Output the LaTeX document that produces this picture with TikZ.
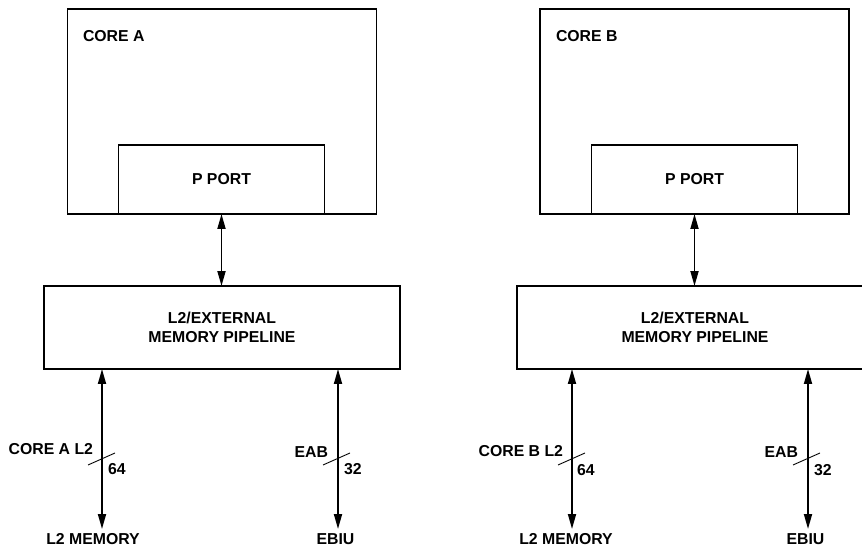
\documentclass[tikz,border=0pt]{standalone}
\usepackage{fontspec}
\setmainfont{Liberation Sans}
\usetikzlibrary{arrows.meta}

\begin{document}
\begin{tikzpicture}[x=0.02cm, y=-0.02cm,
        every node/.style={font=\bfseries\fontsize{9}{11}\selectfont, inner sep=0pt, outer sep=0pt},
        corebox/.style={draw, line width=0.8pt, minimum width=6.18cm, minimum height=4.1cm},
        portbox/.style={draw, line width=0.8pt, minimum width=4.12cm, minimum height=1.38cm},
        pipebox/.style={draw, line width=0.8pt, minimum width=7.12cm, minimum height=1.66cm, align=center},
        biarrow/.style={{Triangle[length=3mm, width=1.6mm]}-{Triangle[length=3mm, width=1.6mm]}, line width=1pt},
        busmark/.style={line width=0.5pt}]
        \useasboundingbox (0,0) rectangle (862,547);

        % Core A
        \node[corebox] (coreA) at (222,111.5) {};
        \node[anchor=west] (coreAlbl) at (83,36) {CORE A};
        \node[portbox] (pportA) at (221.5,179.5) {P PORT};
        \node[pipebox] (pipeA) at (222,327.5) {L2/EXTERNAL\\MEMORY PIPELINE};

        % Core B
        \node[corebox] (coreB) at (694.5,111.5) {};
        \node[anchor=west] (coreBlbl) at (556,36) {CORE B};
        \node[portbox] (pportB) at (694.5,179.5) {P PORT};
        \node[pipebox] (pipeB) at (695,327.5) {L2/EXTERNAL\\MEMORY PIPELINE};

        % Bottom ends
        \coordinate (memAend) at (102,529);
        \coordinate (ebiuAend) at (338,529);
        \coordinate (memBend) at (572,529);
        \coordinate (ebiuBend) at (808,529);
        \node (memA) at (93,539.5) {L2 MEMORY};
        \node (ebiuA) at (335.5,539.5) {EBIU};
        \node (memB) at (566,539.5) {L2 MEMORY};
        \node (ebiuB) at (805.5,539.5) {EBIU};

        % Arrows
        \draw[biarrow] (pportA.south) -- (pportA.south |- pipeA.north);
        \draw[biarrow] (pportB.south) -- (pportB.south |- pipeB.north);
        \draw[biarrow] (pipeA.south -| memAend) -- (memAend);
        \draw[biarrow] (pipeA.south -| ebiuAend) -- (ebiuAend);
        \draw[biarrow] (pipeB.south -| memBend) -- (memBend);
        \draw[biarrow] (pipeB.south -| ebiuBend) -- (ebiuBend);

        % Bus widths
        \draw[busmark] (88,465) -- (115,453);
        \draw[busmark] (323,465) -- (350,453);
        \draw[busmark] (558,465) -- (585,453);
        \draw[busmark] (793,465) -- (820,453);
        \node[anchor=east] (busA1) at (93,449) {CORE A L2};
        \node[anchor=west] (wA1) at (108,469) {64};
        \node[anchor=east] (busA2) at (328,452) {EAB};
        \node[anchor=west] (wA2) at (344,469) {32};
        \node[anchor=east] (busB1) at (563,451) {CORE B L2};
        \node[anchor=west] (wB1) at (577,470) {64};
        \node[anchor=east] (busB2) at (798,452) {EAB};
        \node[anchor=west] (wB2) at (814,470) {32};
    \end{tikzpicture}
\end{document}
